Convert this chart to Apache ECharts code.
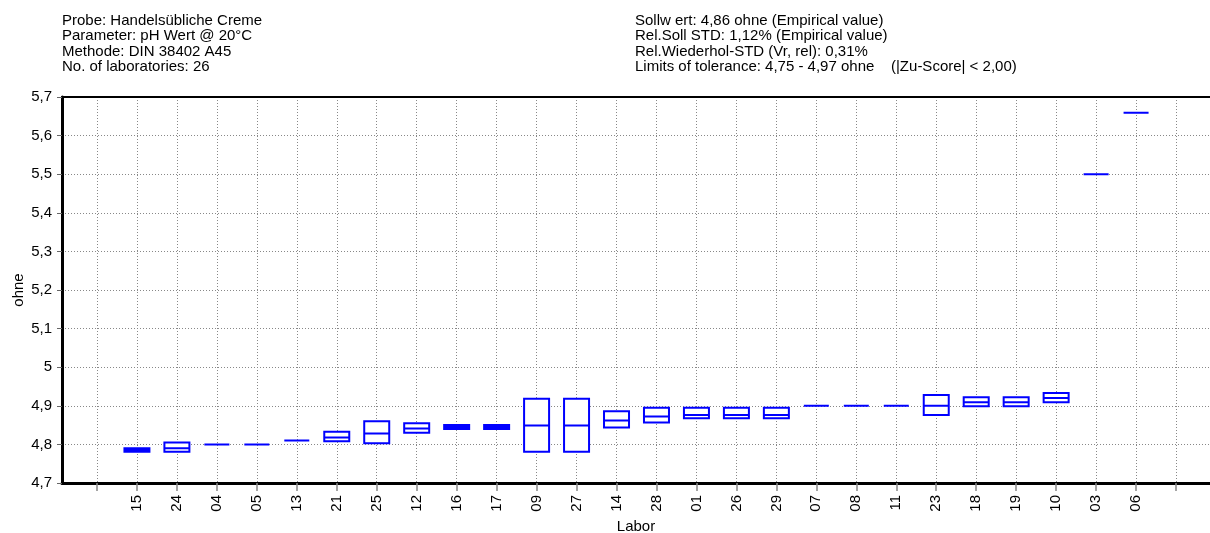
<!DOCTYPE html>
<html>
<head>
<meta charset="utf-8">
<title>Labor</title>
<script src="https://cdn.jsdelivr.net/npm/echarts@6/dist/echarts.min.js"></script>
<style>
  html, body { margin: 0; padding: 0; background: #fff; }
  #chart { width: 1210px; height: 533px; }
</style>
</head>
<body>
<div id="chart"></div>
<script>
// labs in plot order
const labs = ['15', '24', '04', '05', '13', '21', '25', '12', '16', '17', '09', '27', '14',
  '28', '01', '26', '29', '07', '08', '11', '23', '18', '19', '10', '03', '06']
// lower edge, median, upper edge of each lab's box (pH)
const lower = [4.781, 4.781, 4.800, 4.800, 4.810, 4.808, 4.803, 4.830, 4.840, 4.840, 4.781, 4.781, 4.844,
  4.857, 4.868, 4.868, 4.868, 4.900, 4.900, 4.900, 4.876, 4.899, 4.899, 4.909, 5.500, 5.659]
const median = [4.786, 4.790, 4.800, 4.800, 4.810, 4.818, 4.828, 4.841, 4.845, 4.845, 4.849, 4.849, 4.862,
  4.872, 4.876, 4.876, 4.876, 4.900, 4.900, 4.900, 4.900, 4.909, 4.909, 4.920, 5.500, 5.659]
const upper = [4.790, 4.805, 4.800, 4.800, 4.810, 4.833, 4.860, 4.855, 4.850, 4.850, 4.918, 4.918, 4.886,
  4.895, 4.895, 4.895, 4.895, 4.900, 4.900, 4.900, 4.928, 4.922, 4.922, 4.933, 5.500, 5.659]
const yTicks = [4.7, 4.8, 4.9, 5, 5.1, 5.2, 5.3, 5.4, 5.5, 5.6, 5.7]

const infoLeft = [
  'Probe: Handelsübliche Creme',
  'Parameter: pH Wert @ 20°C',
  'Methode: DIN 38402 A45',
  'No. of laboratories: 26'
]
const infoRight = [
  'Sollw ert: 4,86 ohne (Empirical value)',
  'Rel.Soll STD: 1,12% (Empirical value)',
  'Rel.Wiederhol-STD (Vr, rel): 0,31%',
  'Limits of tolerance: 4,75 - 4,97 ohne    (|Zu-Score| < 2,00)'
]

const font = 'Liberation Sans, Arial, sans-serif'
const tickPos = [-1].concat(labs.map((l, i) => i), [labs.length])
// x position = index of lab, then min, Q1, median, Q3, max
const boxData = labs.map((l, i) => [i, lower[i], lower[i], median[i], upper[i], upper[i]])

const headStyle = {
  fontFamily: font,
  fontSize: 15,
  lineHeight: 15.5,
  fontWeight: 'normal',
  color: '#000'
}

const chart = echarts.init(document.getElementById('chart'))
chart.setOption({
  animation: false,
  backgroundColor: '#fff',
  title: [
    { text: infoLeft.join('\n'), left: 62, top: 13, padding: 0, textStyle: headStyle },
    { text: infoRight.join('\n'), left: 635, top: 13, padding: 0, textStyle: headStyle }
  ],
  grid: {
    left: 62,
    right: 0,
    top: 97,
    bottom: 50,
    containLabel: false,
    outerBoundsMode: 'none'
  },
  xAxis: [{
    type: 'value',
    min: -1.875,
    max: 26.85,
    name: 'Labor',
    nameLocation: 'middle',
    nameGap: 36,
    nameTextStyle: { fontFamily: font, fontSize: 15, color: '#000' },
    axisLine: { onZero: false, lineStyle: { color: '#000', width: 3 } },
    axisTick: {
      customValues: tickPos,
      length: 8,
      lineStyle: { color: '#888', width: 1.5 }
    },
    axisLabel: {
      customValues: labs.map((l, i) => i),
      formatter: v => labs[Math.round(v)] || '',
      rotate: 90,
      margin: 12,
      fontFamily: font,
      fontSize: 15,
      color: '#000'
    },
    splitLine: {
      show: true,
      lineStyle: { color: '#888', width: 1, type: [1, 2] }
    }
  }, {
    type: 'value',
    position: 'top',
    min: -1.875,
    max: 26.85,
    axisLine: { onZero: false, lineStyle: { color: '#000', width: 2 } },
    axisTick: { show: false },
    axisLabel: { show: false },
    splitLine: { show: false }
  }],
  yAxis: {
    type: 'value',
    min: 4.7,
    max: 5.7,
    interval: 0.1,
    name: 'ohne',
    nameLocation: 'middle',
    nameGap: 36,
    nameMoveOverlap: false,
    nameTextStyle: { fontFamily: font, fontSize: 15, color: '#000' },
    axisLine: { show: true, onZero: false, lineStyle: { color: '#000', width: 3 } },
    axisTick: { show: true, length: 5, lineStyle: { color: '#666', width: 1 } },
    axisLabel: {
      margin: 10,
      fontFamily: font,
      fontSize: 15,
      color: '#000',
      formatter: v => {
        const t = yTicks.find(y => Math.abs(y - v) < 1e-6)
        if (t === undefined) return ''
        return String(t).replace('.', ',')
      }
    },
    splitLine: {
      show: true,
      lineStyle: { color: '#888', width: 1, type: [1, 2] }
    }
  },
  series: [{
    name: 'Labor',
    type: 'boxplot',
    layout: 'horizontal',
    xAxisIndex: 0,
    yAxisIndex: 0,
    boxWidth: [25, 25],
    data: boxData,
    itemStyle: {
      color: '#fff',
      borderColor: '#0000ff',
      borderWidth: 2
    },
    emphasis: { disabled: true },
    silent: true
  }]
})
</script>
</body>
</html>
